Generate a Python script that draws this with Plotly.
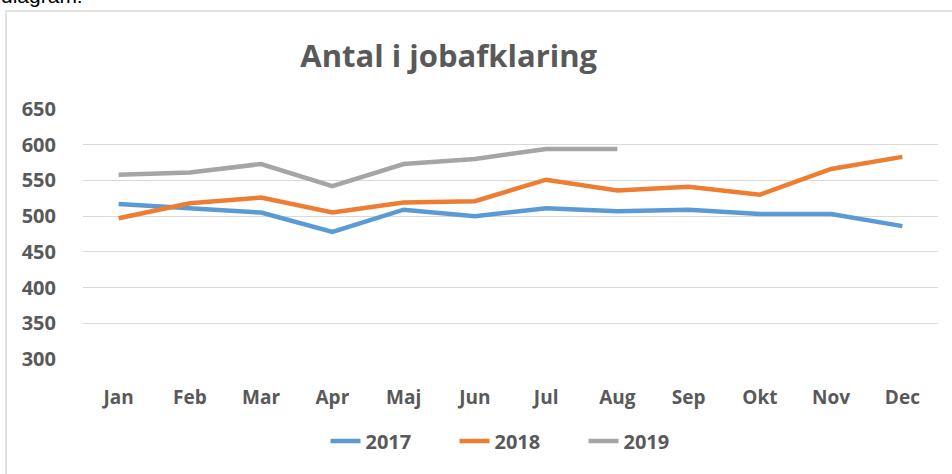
import plotly.graph_objects as go

months = ["Jan", "Feb", "Mar", "Apr", "Maj", "Jun", "Jul", "Aug", "Sep", "Okt", "Nov", "Dec"]
y2017 = [517, 511, 505, 478, 509, 500, 511, 507, 509, 503, 503, 486]
y2018 = [497, 518, 526, 505, 519, 521, 551, 536, 541, 530, 566, 583]
y2019 = [558, 561, 573, 542, 573, 580, 594, 594]
yticks = [300, 350, 400, 450, 500, 550, 600, 650]

TXT = "#595959"
FONT = "Open Sans"

W, H = 952, 474
L, R, T, B = 83, 14, 108, 114
pw, ph = W - L - R, H - T - B


def px(x):
    return (x - L) / pw


def py(y):
    return (H - B - y) / ph


fig = go.Figure()
for name, vals, col in [("2017", y2017, "#5B9BD5"), ("2018", y2018, "#ED7D31"), ("2019", y2019, "#A5A5A5")]:
    fig.add_trace(go.Scatter(x=months[:len(vals)], y=vals, name=f"<b>{name}</b>", mode="lines",
                             line=dict(color=col, width=4.5)))

fig.update_layout(
    width=W, height=H,
    margin=dict(l=L, r=R, t=T, b=B, autoexpand=False),
    paper_bgcolor="white", plot_bgcolor="white",
    font=dict(family=FONT, color=TXT, size=19),
    title=dict(text="<b>Antal i jobafklaring</b>", x=px(486), xanchor="center",
               y=1 - 56 / H, yanchor="middle", font=dict(size=31, color=TXT, family=FONT)),
    xaxis=dict(type="category", categoryorder="array", categoryarray=months,
               tickvals=months, ticktext=[f"<b>{m}</b>" for m in months],
               range=[-0.5, 11.5], showgrid=False, zeroline=False, showline=False,
               ticks="outside", ticklen=20, tickcolor="rgba(0,0,0,0)",
               tickfont=dict(size=19, color=TXT, family=FONT)),
    yaxis=dict(range=[298.6, 651.4], tickvals=yticks, ticktext=[f"<b>{v}</b>" for v in yticks],
               showgrid=True, gridcolor="#D9D9D9", gridwidth=1.3, zeroline=False, showline=False,
               ticks="outside", ticklen=22, tickcolor="rgba(0,0,0,0)",
               tickfont=dict(size=20, color=TXT, family=FONT)),
    legend=dict(orientation="h", x=px(519), xanchor="center", y=py(441), yanchor="middle",
                font=dict(size=20, color=TXT, family=FONT), traceorder="normal",
                entrywidth=84, entrywidthmode="pixels"),
    showlegend=True,
)

# chart frame
fig.add_shape(type="rect", xref="paper", yref="paper",
              x0=px(6), x1=px(990), y0=py(520), y1=py(11),
              line=dict(color="#D9D9D9", width=1.5), fillcolor="rgba(0,0,0,0)", layer="below")

# cut-off text above the chart
fig.add_annotation(text="diagram:", xref="paper", yref="paper", x=px(-1), xanchor="left",
                   y=py(9), yanchor="bottom", showarrow=False,
                   font=dict(size=21, color="black", family="Liberation Sans"))

fig.write_html("out.html", config={"displayModeBar": False},
               post_script="document.body.style.margin='0';")
